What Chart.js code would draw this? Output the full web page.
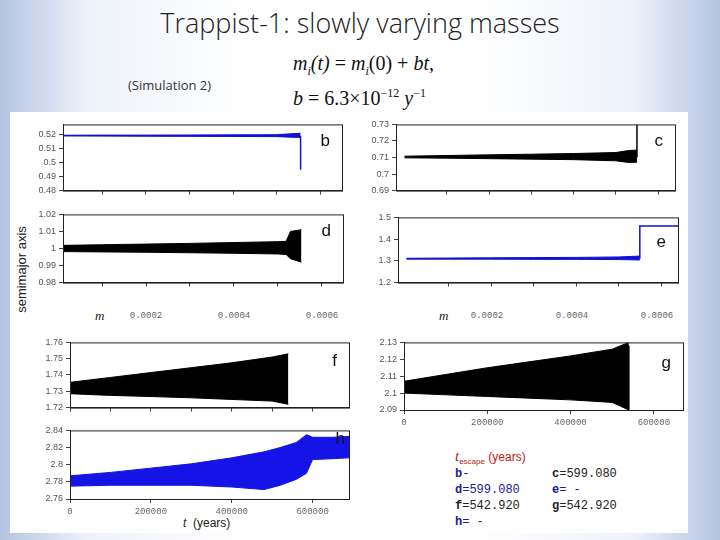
<!DOCTYPE html>
<html><head><meta charset="utf-8">
<script src="https://cdn.jsdelivr.net/npm/chart.js@4"></script>
<style>
body{margin:0;width:720px;height:540px;overflow:hidden;position:relative;font-family:"Open Sans",sans-serif;
background:linear-gradient(90deg,#b4c4e2 0%,#eef2fa 12%,#ffffff 35%,#ffffff 65%,#eef2fa 88%,#b4c4e2 100%);}
.a{position:absolute;white-space:nowrap}
canvas{position:absolute}
#panel{position:absolute;left:10px;top:112px;width:678px;height:421px;background:#fff}
.mono{font-family:"Liberation Mono",monospace;font-size:12px}
</style></head><body>
<div class="a" style="left:0;width:720px;text-align:center;top:4px;font-size:27px;font-weight:300;color:#222">Trappist-1: slowly varying masses</div>
<div class="a" style="left:128px;top:76px;font-size:13px;color:#333">(Simulation 2)</div>
<div class="a" style="left:293px;top:52px;font-family:'Liberation Serif',serif;font-size:20px;font-style:italic;color:#111">m<sub style="font-size:12px">i</sub>(t) <span style="font-style:normal">= </span>m<sub style="font-size:12px">i</sub><span style="font-style:normal">(0) + </span>bt<span style="font-style:normal">,</span></div>
<div class="a" style="left:293px;top:86px;font-family:'Liberation Serif',serif;font-size:20px;color:#111"><i>b</i> = 6.3×10<sup style="font-size:12px">−12</sup> <i>y</i><sup style="font-size:12px">−1</sup></div>
<div id="panel"></div>
<div class="a" style="left:-22px;top:262px;transform:rotate(-90deg);font-family:'Liberation Sans',sans-serif;font-size:13px;color:#222">semimajor axis</div>
<div id="mrow"></div>
<div class="a" style="left:183px;top:516px;font-family:'Liberation Sans',sans-serif;font-size:12px;color:#222"><i>t</i>&nbsp; (years)</div>
<div id="legend"></div>
<script>
// ---------- data (envelopes of the oscillating semimajor axes) ----------
const mTickLabels = ["0.0002","0.0004","0.0006"];
const mTickVals = [0.0002,0.0004,0.0006];
const tTickLabels = ["0","200000","400000","600000"];

const bX = [0,0.0001,0.0002,0.0003,0.0004,0.0005,0.00054,0.000555];
const bUp = [0.5198,0.5199,0.5199,0.5200,0.5201,0.5202,0.5210,0.5212];
const bLo = [0.5193,0.5192,0.5191,0.5190,0.5189,0.5188,0.5183,0.5183];
const bDrop = [0.5195,0.4950];

const dX = [0,0.0001,0.0002,0.0003,0.0004,0.0005,0.00052,0.00053,0.000555];
const dUp = [1.0018,1.0022,1.0026,1.0030,1.0035,1.0040,1.0042,1.0100,1.0110];
const dLo = [0.9982,0.9980,0.9978,0.9975,0.9972,0.9968,0.9965,0.9940,0.9920];

const cX = [0,0.0001,0.0002,0.0003,0.0004,0.0005,0.00053,0.00055];
const cUp = [0.7108,0.7112,0.7116,0.7120,0.7124,0.7130,0.7142,0.7145];
const cLo = [0.7098,0.7096,0.7093,0.7090,0.7087,0.7080,0.7070,0.7072];
const cJump = [0.7100,0.7300];

const eX = [0,0.0001,0.0002,0.0003,0.0004,0.0005,0.00055];
const eUp = [1.312,1.313,1.314,1.315,1.316,1.318,1.322];
const eLo = [1.308,1.308,1.308,1.307,1.307,1.306,1.304];
const eAfter = [1.46,1.46];

const fX = [0,100000,200000,300000,400000,500000,540000];
const fUp = [1.7355,1.7385,1.7415,1.7445,1.7475,1.7510,1.7530];
const fLo = [1.7285,1.7275,1.7268,1.7260,1.7250,1.7240,1.7220];

const gX = [0,100000,200000,300000,400000,500000,540000];
const gUp = [2.1070,2.1110,2.1150,2.1185,2.1220,2.1260,2.1300];
const gLo = [2.1000,2.0990,2.0980,2.0970,2.0960,2.0945,2.0900];

const hX = [0,100000,200000,300000,400000,480000,520000,560000,585000,600000,650000,690000];
const hUp = [2.787,2.791,2.796,2.801,2.808,2.815,2.820,2.826,2.835,2.832,2.832,2.833];
const hLo = [2.775,2.776,2.776,2.776,2.774,2.771,2.776,2.783,2.790,2.806,2.807,2.808];

// ---------- drawing ----------
const YW = 40;
const frame = {id:'frame',afterDraw(c){const a=c.chartArea,x=c.ctx;x.save();x.strokeStyle='#222';x.lineWidth=1;x.strokeRect(a.left+.5,a.top+.5,a.right-a.left,a.bottom-a.top);x.restore();}};
const letter = {id:'letter',afterDraw(c,args,o){if(!o.text)return;const a=c.chartArea,x=c.ctx;x.save();x.font='17px "Liberation Sans",sans-serif';x.fillStyle='#111';x.textAlign='right';x.fillText(o.text,a.right-o.dx,a.top+o.dy);x.restore();}};
function pts(xs,ys){return xs.map((v,i)=>({x:v,y:ys[i]}));}
function panel(o){
  const cv=document.createElement('canvas');
  const xh=o.xLabels?20:6;
  cv.style.left=(o.l-YW)+'px';cv.style.top=(o.t-2)+'px';
  cv.width=o.w+YW+8;cv.height=o.h+xh+2;
  cv.style.width=cv.width+'px';cv.style.height=cv.height+'px';
  document.body.appendChild(cv);
  const ds=[
    {data:pts(o.xs,o.up),borderColor:o.col,backgroundColor:o.col,borderWidth:1,pointRadius:0,fill:false,tension:0},
    {data:pts(o.xs,o.lo),borderColor:o.col,backgroundColor:o.col,borderWidth:1,pointRadius:0,fill:'-1',tension:0}
  ].concat((o.extra||[]).map(e=>({data:e,borderColor:o.col,borderWidth:1.5,pointRadius:0,fill:false})));
  new Chart(cv,{type:'line',data:{datasets:ds},plugins:[frame,letter],options:{
    responsive:false,animation:false,events:[],layout:{padding:{top:2,right:8,left:0,bottom:0}},
    plugins:{legend:{display:false},tooltip:{enabled:false},letter:{text:o.letter,dx:o.ldx||12,dy:o.ldy||22}},
    scales:{
      x:{type:'linear',min:o.xmin,max:o.xmax,
        afterFit(s){s.height=xh;},
        afterBuildTicks(s){s.ticks=o.xt.map(v=>({value:v}));},
        grid:{drawOnChartArea:false,tickLength:4,color:'#444'},border:{color:'#222'},
        ticks:{display:!!o.xLabels,maxRotation:0,autoSkip:false,font:{size:9,family:'Liberation Mono'},color:'#666',
          callback:(v,i)=>o.xLabels?o.xLabels[i]:''}},
      y:{min:o.ymin,max:o.ymax,
        afterFit(s){s.width=YW;},
        afterBuildTicks(s){s.ticks=o.yt.map(v=>({value:v}));},
        grid:{drawOnChartArea:false,tickLength:4,color:'#444'},border:{color:'#222'},
        ticks:{autoSkip:false,font:{size:9,family:'Liberation Sans'},color:'#555',callback:v=>String(+v.toFixed(3))}}
    }}});
}
const mT=[0.0001,0.0002,0.0003,0.0004,0.0005,0.0006];
panel({l:63,t:118,w:279,h:75,xmin:0.00001,xmax:0.00065,ymin:0.48,ymax:0.5276,yt:[0.48,0.49,0.5,0.51,0.52],xt:mT,
  xs:bX,up:bUp,lo:bLo,col:'#1010d8',letter:'b',extra:[[{x:0.000555,y:bDrop[0]},{x:0.000555,y:bDrop[1]}]]});
panel({l:63,t:208,w:280,h:77,xmin:0.00001,xmax:0.00065,ymin:0.98,ymax:1.02,yt:[0.98,0.99,1,1.01,1.02],xt:mT,
  xs:dX,up:dUp,lo:dLo,col:'#000',letter:'d'});
panel({l:396,t:118,w:279,h:75,xmin:-0.00002,xmax:0.00064,ymin:0.69,ymax:0.73,yt:[0.69,0.7,0.71,0.72,0.73],xt:mT,
  xs:cX,up:cUp,lo:cLo,col:'#000',letter:'c',extra:[[{x:0.00055,y:cJump[0]},{x:0.00055,y:cJump[1]}]]});
panel({l:398,t:211,w:280,h:74,xmin:-0.00002,xmax:0.00064,ymin:1.2,ymax:1.5,yt:[1.2,1.3,1.4,1.5],xt:mT,
  xs:eX,up:eUp,lo:eLo,col:'#1010d0',letter:'e',ldy:30,
  extra:[[{x:0.00055,y:1.31},{x:0.00055,y:eAfter[0]},{x:0.00064,y:eAfter[1]}]]});
panel({l:70,t:336,w:279,h:74,xmin:0,xmax:690000,ymin:1.72,ymax:1.76,yt:[1.72,1.73,1.74,1.75,1.76],xt:[0,100000,200000,300000,400000,500000,600000],
  xs:fX,up:fUp,lo:fLo,col:'#000',letter:'f',ldy:24});
panel({l:404,t:336,w:279,h:74,xmin:0,xmax:670000,ymin:2.09,ymax:2.13,yt:[2.09,2.1,2.11,2.12,2.13],xt:[0,200000,400000,600000],
  xs:gX,up:gUp,lo:gLo,col:'#000',letter:'g',ldy:26,xLabels:tTickLabels,
  extra:[[{x:540000,y:2.128},{x:540000,y:2.09}]]});
panel({l:70,t:424,w:279,h:75,xmin:0,xmax:690000,ymin:2.76,ymax:2.84,yt:[2.76,2.78,2.8,2.82,2.84],xt:[0,200000,400000,600000],
  xs:hX,up:hUp,lo:hLo,col:'#1414e6',letter:'h',ldy:14,ldx:4,xLabels:tTickLabels});

// m-axis label rows
const mrow=document.getElementById('mrow');
[[58,88,'left'],[402,85,'right']].forEach(([x0,px])=>{
  const m=document.createElement('div');m.className='a';m.style.cssText=`left:${x0+37}px;top:308px;font-family:'Liberation Serif',serif;font-style:italic;font-size:13px;color:#222`;m.textContent='m';mrow.appendChild(m);
  mTickVals.forEach((v,i)=>{const d=document.createElement('div');d.className='a';
    d.style.cssText=`left:${x0+v/0.0002*px-22}px;width:44px;text-align:center;top:311px;font-family:'Liberation Mono',monospace;font-size:9px;color:#666`;
    d.textContent=mTickLabels[i];mrow.appendChild(d);});
});
// escape-time legend
const escNames=['b','c','d','e','f','g','h'];
const escVals=['-','599.080','599.080',' -','542.920','542.920',' -'];
const escCols=['#1a1a9a','#222','#1a1a9a','#1a1a9a','#222','#222','#1a1a9a'];
const lg=document.getElementById('legend');
const t=document.createElement('div');t.className='a';t.style.cssText="left:455px;top:448px;color:#c02020;font-family:'Liberation Sans',sans-serif;font-size:12px";
t.innerHTML='<i style="font-family:Liberation Serif;font-size:15px">t</i><sub style="font-size:8px">escape</sub> (years)';lg.appendChild(t);
escNames.forEach((n,i)=>{const d=document.createElement('div');d.className='a mono';
  const col=i%2===0?455:552,row=Math.floor((i+1)/2);
  const r=[0,1,1,2,2,3,3][i];
  d.style.cssText+=`;left:${i===0?455:(i%2===1?552:455)}px;top:${467+ [0,0,1,1,2,2,3][i]*16}px;color:${escCols[i]}`;
  d.innerHTML=`<b style="color:${escCols[i]==='#222'?'#222':'#1a1a9a'}">${n}</b>${i===0?'-':'='+escVals[i]}`;
  lg.appendChild(d);});
</script>
</body></html>
